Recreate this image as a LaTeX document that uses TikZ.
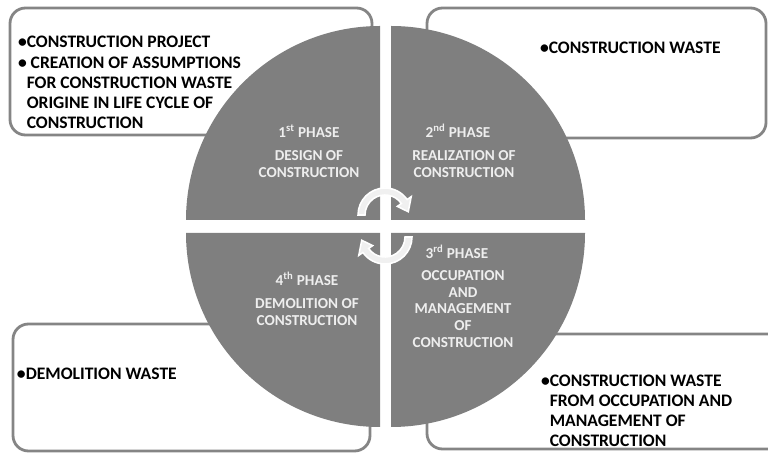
\documentclass[tikz,border=0pt]{standalone}
\usepackage{fontspec}
\setmainfont{Carlito}
\usepackage{tikz}
\usetikzlibrary{positioning, calc}

\definecolor{quadgray}{HTML}{7F7F7F}
\definecolor{framegray}{HTML}{858585}
\definecolor{phasetxt}{HTML}{EEEEEE}

\begin{document}
\begin{tikzpicture}[
  x=0.025cm, y=0.025cm,
  every node/.append style={inner sep=0pt, outer sep=0pt},
  panel/.style={draw=framegray, line width=2pt, rounded corners=11pt},
  quad/.style={fill=quadgray, draw=none},
  ph/.style={font=\fontsize{10.8}{12}\selectfont\bfseries, text=phasetxt, align=center},
  ds/.style={font=\fontsize{10.8}{12}\selectfont\bfseries, text=phasetxt, align=center},
  txt/.style={font=\fontsize{12.5}{14.2}\selectfont\bfseries, align=left, anchor=west},
  cyc/.style={fill=gray!12, draw=white, line width=1.1pt},
]
\useasboundingbox (0,0) rectangle (768,453);

%% ─── frames behind the circle ───────────────────────────────────────────────
\draw[panel] (10,318)  rectangle (372,445);
\draw[panel] (427,315) rectangle (766,445);
\draw[panel] (13,2)    rectangle (370,129);
\draw[panel] (427,4)   rectangle (800,119);

%% ─── four quadrants ─────────────────────────────────────────────────────────
\fill[quad] (380,233) -- ++(-194,0) arc[start angle=180, end angle=90,  radius=194] -- cycle;
\fill[quad] (391,233) -- ++(0,194)  arc[start angle=90,  end angle=0,   radius=194] -- cycle;
\fill[quad] (391,220) -- ++(194,0)  arc[start angle=0,   end angle=-90, radius=194] -- cycle;
\fill[quad] (380,220) -- ++(0,-194) arc[start angle=270, end angle=180, radius=194] -- cycle;

%% ─── cycle arrows in the middle ─────────────────────────────────────────────
\coordinate (cu) at (385,238);
\coordinate (cl) at (385,216);
\filldraw[cyc] ($(cu)+(180:27)$) arc[start angle=180, end angle=35, radius=27]
  -- ($(cu)+(35:32)$) -- ($(cu)+(8:23.5)$) -- ($(cu)+(35:15)$)
  -- ($(cu)+(35:20)$) arc[start angle=35, end angle=180, radius=20] -- cycle;
\filldraw[cyc] ($(cl)+(0:27)$) arc[start angle=0, end angle=-145, radius=27]
  -- ($(cl)+(-145:32)$) -- ($(cl)+(-172:23.5)$) -- ($(cl)+(-145:15)$)
  -- ($(cl)+(-145:20)$) arc[start angle=-145, end angle=0, radius=20] -- cycle;

%% ─── phase labels ───────────────────────────────────────────────────────────
\node[ph] (p1) at (309,322) {1\textsuperscript{st} PHASE};
\node[ds] (d1) at (309,289) {DESIGN OF\\CONSTRUCTION};
\node[ph] (p2) at (458,322) {2\textsuperscript{nd} PHASE};
\node[ds] (d2) at (464,289) {REALIZATION OF\\CONSTRUCTION};
\node[ph] (p3) at (457,201) {3\textsuperscript{rd} PHASE};
\node[ds] (d3) at (463,144) {OCCUPATION\\AND\\MANAGEMENT\\OF\\CONSTRUCTION};
\node[ph] (p4) at (307,174) {4\textsuperscript{th} PHASE};
\node[ds] (d4) at (307,141) {DEMOLITION OF\\CONSTRUCTION};

%% ─── waste texts ────────────────────────────────────────────────────────────
\node[txt] (t1) at (18,371) {\textbullet CONSTRUCTION PROJECT\\[1pt]
  \textbullet\ CREATION OF ASSUMPTIONS\\
  \hphantom{\textbullet}FOR CONSTRUCTION WASTE\\
  \hphantom{\textbullet}ORIGINE IN LIFE CYCLE OF\\
  \hphantom{\textbullet}CONSTRUCTION};
\node[txt] (t2) at (540,405) {\textbullet CONSTRUCTION WASTE};
\node[txt] (t3) at (17,79)   {\textbullet DEMOLITION WASTE};
\node[txt] (t4) at (541,42)  {\textbullet CONSTRUCTION WASTE\\
  \hphantom{\textbullet}FROM OCCUPATION AND\\
  \hphantom{\textbullet}MANAGEMENT OF\\
  \hphantom{\textbullet}CONSTRUCTION};

\end{tikzpicture}
\end{document}
